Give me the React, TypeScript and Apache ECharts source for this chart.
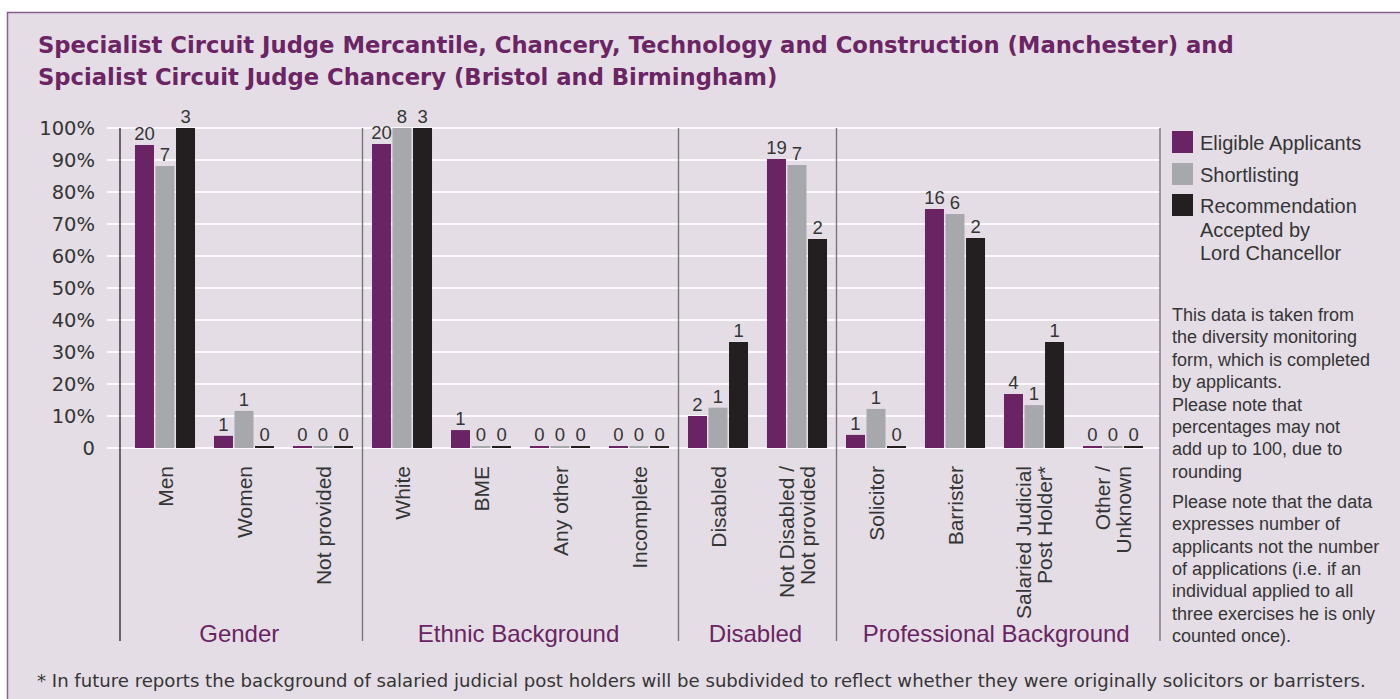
import { useEffect, useRef } from 'react';
import * as echarts from 'echarts';

// ---------- data ----------
const categories = [
  'Men',
  'Women',
  'Not provided',
  'White',
  'BME',
  'Any other',
  'Incomplete',
  'Disabled',
  'Not Disabled /\nNot provided',
  'Solicitor',
  'Barrister',
  'Salaried Judicial\nPost Holder*',
  'Other /\nUnknown',
];
const groupNames = ['Gender', 'Ethnic Background', 'Disabled', 'Professional Background'];
const groupSizes = [3, 4, 2, 4];

const seriesNames = ['Eligible Applicants', 'Shortlisting', 'Recommendation\nAccepted by\nLord Chancellor'];

// bar heights (percent)
const eligiblePct = [94.7, 3.8, 0, 95, 5.6, 0, 0, 10, 90.3, 4.1, 74.7, 16.9, 0];
const shortlistPct = [88.1, 11.6, 0, 100, 0, 0, 0, 12.6, 88.4, 12.2, 73.1, 13.4, 0];
const recommendedPct = [100, 0, 0, 100, 0, 0, 0, 33.1, 65.3, 0, 65.6, 33.1, 0];

// numbers printed above bars
const eligibleCount = [20, 1, 0, 20, 1, 0, 0, 2, 19, 1, 16, 4, 0];
const shortlistCount = [7, 1, 0, 8, 0, 0, 0, 1, 7, 1, 6, 1, 0];
const recommendedCount = [3, 0, 0, 3, 0, 0, 0, 1, 2, 0, 2, 1, 0];

const noteParagraph1 = [
  'This data is taken from',
  'the diversity monitoring',
  'form, which is completed',
  'by applicants.',
  'Please note that',
  'percentages may not',
  'add up to 100, due to',
  'rounding',
];
const noteParagraph2 = [
  'Please note that the data',
  'expresses number of',
  'applicants not the number',
  'of applications (i.e. if an',
  'individual applied to all',
  'three exercises he is only',
  'counted once).',
];
const footnote =
  '* In future reports the background of salaried judicial post holders will be subdivided to reflect whether they were originally solicitors or barristers.';
const titleText =
  'Specialist Circuit Judge Mercantile, Chancery, Technology and Construction (Manchester) and\nSpcialist Circuit Judge Chancery (Bristol and Birmingham)';

// ---------- style ----------
const FONT = '"Liberation Sans", Arial, Helvetica, sans-serif';
const WIDE = '"DejaVu Sans", "Liberation Sans", sans-serif';
const PURPLE = '#6a2463';
const GREY = '#a7a8ab';
const BLACK = '#231f20';
const TEXT = '#353535';
const BG = '#e4dde5';
const colors = [PURPLE, GREY, BLACK];

const W = 1400;
const H = 699;
const PLOT_TOP = 128;
const PLOT_H = 320;
const GRID_LEFT = 107;
const GRID_RIGHT_X = 1160;
const BAR_LEFT = 125.5;
const BAR_W = 1027;
const AXIS_X = 120;
const SEP_BOTTOM = 641;

export default function App() {
  const ref = useRef<HTMLDivElement>(null);

  useEffect(() => {
    document.body.style.margin = '0';
    if (!ref.current) return;
    const chart = echarts.init(ref.current, undefined, { renderer: 'svg' });

    const pcts = [eligiblePct, shortlistPct, recommendedPct];
    const counts = [eligibleCount, shortlistCount, recommendedCount];

    const band = BAR_W / categories.length;
    const lineXs: number[] = [AXIS_X];
    let acc = 0;
    groupSizes.forEach((s, i) => {
      acc += s;
      if (i < groupSizes.length - 1) lineXs.push(BAR_LEFT + band * acc);
    });
    lineXs.push(GRID_RIGHT_X);

    const graphics: any[] = [
      { type: 'rect', silent: true, shape: { x: 0, y: 0, width: W, height: 12 }, style: { fill: '#ffffff' } },
      { type: 'rect', silent: true, shape: { x: 0, y: 0, width: 7, height: H }, style: { fill: '#ffffff' } },
      {
        type: 'polyline',
        silent: true,
        shape: { points: [[7.5, H], [7.5, 12.5], [W, 12.5]] },
        style: { stroke: '#87608b', lineWidth: 1.5, fill: 'none' },
      },
    ];

    lineXs.forEach((x, i) => {
      graphics.push({
        type: 'line',
        silent: true,
        shape: { x1: x, y1: PLOT_TOP, x2: x, y2: SEP_BOTTOM },
        style: { stroke: i === 0 ? '#333333' : '#777777', lineWidth: 1.4 },
        z: 10,
      });
    });

    groupNames.forEach((name, i) => {
      graphics.push({
        type: 'text',
        silent: true,
        x: (lineXs[i] + lineXs[i + 1]) / 2 - 2,
        y: 633,
        style: { text: name, fill: PURPLE, font: `24px ${FONT}`, align: 'center', verticalAlign: 'middle' },
      });
    });

    // legend
    const legendTops = [131, 163, 194];
    seriesNames.forEach((name, i) => {
      graphics.push({
        type: 'rect',
        silent: true,
        shape: { x: 1172, y: legendTops[i], width: 21, height: 22 },
        style: { fill: colors[i] },
      });
      graphics.push({
        type: 'text',
        silent: true,
        x: 1200,
        y: legendTops[i] + 0.5,
        style: {
          text: name,
          fill: TEXT,
          font: `20px ${FONT}`,
          lineHeight: 23.5,
          align: 'left',
          verticalAlign: 'top',
        },
      });
    });

    graphics.push({
      type: 'text',
      silent: true,
      x: 1172,
      y: 303.8,
      style: { text: noteParagraph1.join('\n'), fill: TEXT, font: `18px ${FONT}`, lineHeight: 22.4, align: 'left', verticalAlign: 'top' },
    });
    graphics.push({
      type: 'text',
      silent: true,
      x: 1172,
      y: 490.9,
      style: { text: noteParagraph2.join('\n'), fill: TEXT, font: `18px ${FONT}`, lineHeight: 22.3, align: 'left', verticalAlign: 'top' },
    });
    graphics.push({
      type: 'text',
      silent: true,
      x: 37,
      y: 680,
      style: { text: footnote, fill: TEXT, font: `18.1px ${WIDE}`, align: 'left', verticalAlign: 'middle' },
    });

    chart.setOption({
      animation: false,
      backgroundColor: BG,
      title: {
        text: titleText,
        left: 38,
        top: 29,
        padding: 0,
        textStyle: { fontFamily: WIDE, fontSize: 22.7, fontWeight: 'bold', color: '#6b2464', lineHeight: 32 },
      },
      grid: [
        { left: GRID_LEFT, top: PLOT_TOP, width: GRID_RIGHT_X - GRID_LEFT, height: PLOT_H },
        { left: BAR_LEFT, top: PLOT_TOP, width: BAR_W, height: PLOT_H },
      ],
      xAxis: [
        { gridIndex: 0, type: 'value', show: false, min: 0, max: 1 },
        {
          gridIndex: 1,
          type: 'category',
          data: categories,
          axisLine: { show: false },
          axisTick: { show: false },
          splitLine: { show: false },
          axisLabel: {
            interval: 0,
            rotate: 90,
            margin: 18,
            fontFamily: FONT,
            fontSize: 21,
            lineHeight: 21,
            color: TEXT,
          },
        },
      ],
      yAxis: [
        {
          gridIndex: 0,
          type: 'value',
          min: 0,
          max: 100,
          interval: 10,
          axisLine: { show: false },
          axisTick: { show: false },
          axisLabel: {
            margin: 12,
            fontFamily: WIDE,
            fontSize: 19.5,
            color: TEXT,
            formatter: (v: number) => (v === 0 ? '0' : `${v}%`),
          },
          splitLine: { show: true, lineStyle: { color: '#fbf9fb', width: 2 } },
        },
        { gridIndex: 1, type: 'value', min: 0, max: 100, show: false, splitLine: { show: false } },
      ],
      series: pcts.map((data, si) => ({
        name: seriesNames[si],
        type: 'bar',
        xAxisIndex: 1,
        yAxisIndex: 1,
        data,
        barWidth: 19,
        barGap: '8%',
        barMinHeight: 2,
        itemStyle: { color: colors[si] },
        label: {
          show: true,
          position: 'top',
          distance: 2,
          fontFamily: FONT,
          fontSize: 18.5,
          color: TEXT,
          formatter: (p: any) => String(counts[si][p.dataIndex]),
        },
      })),
      graphic: graphics,
    });

    return () => chart.dispose();
  }, []);

  return <div ref={ref} style={{ width: W, height: H }} />;
}
